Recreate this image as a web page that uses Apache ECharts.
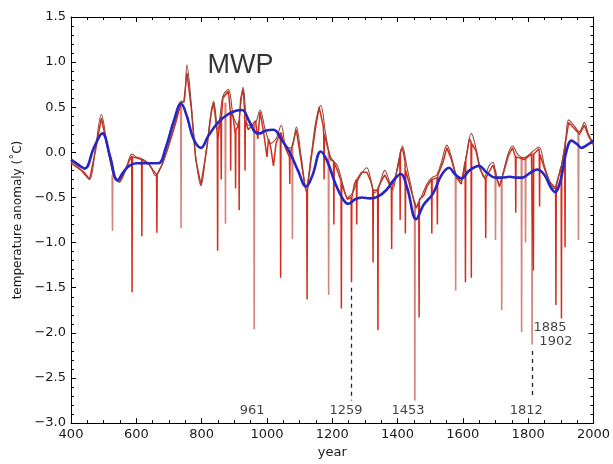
<!DOCTYPE html>
<html>
<head>
<meta charset="utf-8">
<script src="https://cdn.jsdelivr.net/npm/echarts@6/dist/echarts.min.js"></script>
<style>
html,body{margin:0;padding:0;background:#fff;}
#chart{width:613px;height:464px;}
</style>
</head>
<body>
<div id="chart"></div>
<script>
// 长期平滑曲线（蓝）
var blueYears = [400,420,442,470,496,520,542,560,578,600,640,668,690,715,737,755,775,798,820,850,880,905,924,945,965,978,995,1020,1045,1070,1095,1120,1140,1165,1185,1210,1235,1250,1270,1291,1315,1340,1365,1390,1410,1430,1457,1480,1508,1535,1558,1575,1596,1620,1650,1672,1700,1720,1743,1765,1782,1805,1828,1850,1868,1882,1900,1915,1933,1950,1963,1980,2000];
var blueVals  = [-0.08,-0.13,-0.18,0.05,0.21,-0.05,-0.31,-0.22,-0.15,-0.12,-0.12,-0.12,0.05,0.35,0.54,0.40,0.15,0.05,0.18,0.33,0.42,0.46,0.47,0.35,0.22,0.21,0.24,0.25,0.14,0.00,-0.20,-0.38,-0.25,0.01,-0.10,-0.35,-0.53,-0.57,-0.52,-0.50,-0.51,-0.49,-0.42,-0.30,-0.24,-0.40,-0.74,-0.58,-0.46,-0.25,-0.17,-0.24,-0.29,-0.20,-0.15,-0.22,-0.28,-0.28,-0.27,-0.28,-0.28,-0.23,-0.19,-0.25,-0.38,-0.44,-0.30,-0.02,0.13,0.09,0.05,0.08,0.13];

// 短期平滑曲线（棕）
var brownYears = [400,420,440,457,475,493,510,530,548,565,587,600,617,640,659,680,700,720,737,746,755,768,782,798,815,837,850,865,882,897,910,927,943,960,979,995,1012,1028,1044,1060,1075,1090,1105,1120,1135,1150,1165,1180,1195,1216,1232,1246,1262,1280,1306,1318,1330,1345,1361,1373,1385,1400,1415,1428,1440,1457,1472,1490,1505,1520,1535,1551,1565,1580,1595,1610,1626,1640,1652,1665,1680,1692,1702,1712,1725,1740,1752,1770,1788,1810,1833,1850,1864,1879,1890,1903,1915,1924,1940,1957,1972,1985,2000];
var brownVals  = [-0.10,-0.15,-0.24,-0.30,0.05,0.42,0.10,-0.25,-0.33,-0.22,-0.02,-0.05,-0.07,-0.13,-0.26,-0.12,0.10,0.35,0.57,0.55,0.97,0.55,-0.05,-0.37,0.05,0.57,0.25,0.62,0.70,0.40,0.30,0.72,0.30,0.30,0.47,0.25,0.10,0.15,0.30,0.05,0.05,0.28,-0.05,-0.38,-0.05,0.35,0.52,0.20,-0.05,-0.15,-0.35,-0.50,-0.45,-0.30,-0.17,-0.30,-0.45,-0.35,-0.20,-0.30,-0.42,-0.15,0.07,-0.15,-0.35,-0.60,-0.50,-0.35,-0.28,-0.25,-0.10,0.08,-0.05,-0.25,-0.32,-0.05,0.21,0.05,-0.15,-0.28,-0.15,-0.11,-0.25,-0.36,-0.20,0.00,0.07,-0.03,-0.06,0.00,0.06,-0.15,-0.30,-0.40,-0.30,-0.13,0.15,0.36,0.30,0.23,0.33,0.20,0.10];

// 年值（红），含火山尖峰
var redYears = [400,440,457,475,493,510,530,548,565,586,587,588,600,616,617,618,640,662,663,664,680,700,720,737,746,755,768,782,798,815,830,837,845,848,849,850,858,859,860,861,865,882,888,889,890,897,903,904,905,910,914,915,916,920,927,932,933,934,943,950,965,972,979,990,1000,1005,1012,1020,1028,1041,1042,1043,1050,1060,1069,1070,1071,1090,1105,1115,1122,1123,1124,1135,1150,1160,1165,1172,1174,1175,1176,1195,1204,1205,1206,1216,1227,1228,1229,1246,1258,1259,1260,1268,1274,1275,1276,1290,1306,1318,1324,1325,1326,1339,1340,1341,1350,1361,1372,1381,1382,1383,1400,1407,1408,1409,1415,1423,1424,1425,1440,1457,1465,1466,1467,1480,1490,1504,1505,1506,1521,1522,1523,1540,1551,1565,1580,1595,1607,1608,1609,1620,1625,1626,1627,1640,1652,1669,1670,1671,1692,1712,1725,1740,1752,1761,1762,1763,1788,1810,1815,1816,1817,1833,1834,1835,1836,1850,1864,1884,1885,1886,1901,1902,1903,1912,1913,1914,1924,1940,1957,1972,1985,2000];
var redVals  = [-0.12,-0.22,-0.30,0.02,0.38,0.08,-0.25,-0.33,-0.20,-0.04,-1.55,-0.05,-0.06,-0.08,-0.93,-0.08,-0.14,-0.25,-0.89,-0.24,-0.13,0.08,0.32,0.55,0.57,0.88,0.50,-0.08,-0.36,0.02,0.45,0.55,0.30,0.20,-1.09,0.15,0.40,0.35,-0.30,0.40,0.60,0.68,0.45,-0.20,0.45,0.38,0.20,-0.40,0.25,0.28,0.35,-0.64,0.40,0.60,0.70,0.45,-0.20,0.35,0.25,0.28,0.35,0.15,0.45,0.22,-0.05,0.15,0.05,-0.15,0.10,0.22,-1.39,0.22,0.12,0.02,-0.05,-0.35,-0.02,0.25,-0.10,-0.35,-0.45,-1.63,-0.42,-0.08,0.30,0.50,0.50,0.30,0.20,-0.30,0.20,-0.08,-0.10,-0.80,-0.12,-0.20,-0.32,-1.73,-0.35,-0.52,-0.50,-1.44,-0.50,-0.35,-0.30,-0.80,-0.30,-0.22,-0.22,-0.32,-0.40,-1.22,-0.42,-0.42,-1.97,-0.40,-0.32,-0.25,-0.33,-0.40,-1.07,-0.40,-0.18,-0.05,-0.75,0.00,0.05,-0.10,-0.90,-0.20,-0.40,-0.62,-0.55,-1.83,-0.52,-0.48,-0.38,-0.30,-0.90,-0.30,-0.28,-0.80,-0.26,-0.10,0.05,-0.08,-0.28,-0.35,-0.10,-1.44,-0.08,0.15,0.12,-1.39,0.10,0.02,-0.18,-0.30,-0.95,-0.28,-0.14,-0.38,-0.22,-0.03,0.05,-0.05,-0.67,-0.05,-0.08,-0.02,-0.02,-1.31,-0.02,0.04,0.00,-0.60,-0.02,-0.18,-0.32,-0.40,-1.69,-0.38,-0.15,-1.84,-0.13,0.05,-1.05,0.10,0.33,0.27,0.20,0.30,0.18,0.08];

// 浅色尖峰
var pinkYears = [527,737,873,961,1078,1189,1453,1578,1700,1719,1780,1792,1812,1954];
var pinkBase  = [-0.25,0.55,0.55,0.30,0.05,0.00,-0.55,-0.27,-0.20,-0.30,-0.05,-0.05,0.00,0.22];
var pinkVals  = [-0.87,-0.84,-0.79,-1.96,-0.96,-1.58,-2.75,-1.53,-0.97,-1.75,-1.99,-1.00,-2.13,-0.97];

// 标注
var noteTexts = ['MWP','961','1259','1453','1812','1885','1902'];
var noteYears = [919,955,1242,1432,1794,1867,1885];
var noteVals  = [0.96,-2.86,-2.86,-2.86,-2.86,-1.94,-2.10];
var dashYears = [1259,1812];
var dashTop   = [-1.50,-2.20];
var dashBot   = [-2.75,-2.72];

function pairs(xs, ys) {
    return xs.map(function (x, i) { return [x, ys[i]]; });
}

var pinkData = [];
pinkYears.forEach(function (y, i) {
    pinkData.push([y - 1, pinkBase[i]], [y, pinkVals[i]], [y + 1, pinkBase[i]], [y + 1, '-']);
});

var font = 'DejaVu Sans';
var myChart = echarts.init(document.getElementById('chart'));

function xAxisOf(pos, labels) {
    return {
        type: 'value', min: 400, max: 2000, interval: 200, position: pos,
        axisLine: { onZero: false, lineStyle: { color: '#000', width: 1 } },
        axisTick: { inside: true, length: 5, lineStyle: { color: '#000' } },
        minorTick: { show: true, splitNumber: 4, length: 3, lineStyle: { color: '#000' } },
        splitLine: { show: false },
        axisLabel: {
            show: labels, fontSize: 13, color: '#1a1a1a', margin: 5, fontFamily: font,
            formatter: function (v) { return String(v); }
        },
        name: labels ? 'year' : '', nameLocation: 'middle', nameGap: 21,
        nameTextStyle: { fontSize: 13, color: '#1a1a1a', fontFamily: font }
    };
}
function yAxisOf(pos, labels) {
    return {
        type: 'value', min: -3, max: 1.5, interval: 0.5, position: pos,
        axisLine: { onZero: false, lineStyle: { color: '#000', width: 1 } },
        axisTick: { inside: true, length: 5, lineStyle: { color: '#000' } },
        minorTick: { show: true, splitNumber: 5, length: 3, lineStyle: { color: '#000' } },
        splitLine: { show: false },
        axisLabel: {
            show: labels, fontSize: 13, color: '#1a1a1a', margin: 5, fontFamily: font,
            formatter: function (v) { return (v < 0 ? '\u2212' : '') + Math.abs(v).toFixed(1); }
        },
        name: labels ? 'temperature anomaly (\u02daC)' : '', nameLocation: 'middle', nameGap: 44,
        nameTextStyle: { fontSize: 12, color: '#1a1a1a', fontFamily: font }
    };
}

var option = {
    animation: false,
    backgroundColor: '#fff',
    grid: { left: 71, right: 12, top: 17, bottom: 34 },
    xAxis: [xAxisOf('bottom', true), xAxisOf('top', false)],
    yAxis: [yAxisOf('left', true), yAxisOf('right', false)],
    series: [
        {
            name: 'pink', type: 'line', symbol: 'none', connectNulls: false,
            data: pinkData,
            lineStyle: { color: '#d4857b', width: 1.6 }
        },
        {
            name: 'annual', type: 'line', symbol: 'none',
            data: pairs(redYears, redVals),
            lineStyle: { color: '#d42c1c', width: 1.5 }
        },
        {
            name: 'smooth', type: 'line', symbol: 'none', smooth: 0.35,
            data: pairs(brownYears, brownVals),
            lineStyle: { color: '#8e4a3c', width: 1.1 }
        },
        {
            name: 'long', type: 'line', symbol: 'none', smooth: 0.4,
            data: pairs(blueYears, blueVals),
            lineStyle: { color: '#2626c4', width: 2.6 },
            markLine: {
                silent: true, symbol: 'none', animation: false,
                label: { show: false },
                lineStyle: { color: '#222', type: [4, 4], width: 1.3 },
                data: dashYears.map(function (y, i) {
                    return [{ coord: [y, dashTop[i]] }, { coord: [y, dashBot[i]] }];
                })
            }
        },
        {
            name: 'notes', type: 'scatter', symbolSize: 0, silent: true,
            data: noteTexts.map(function (t, i) {
                return {
                    name: t, value: [noteYears[i], noteVals[i]],
                    label: i === 0
                        ? { fontSize: 27, fontFamily: 'Liberation Sans', color: '#000' }
                        : { fontSize: 13 }
                };
            }),
            label: {
                show: true, position: 'inside', formatter: '{b}',
                color: '#111', fontFamily: font
            }
        }
    ]
};

myChart.setOption(option);
</script>
</body>
</html>
